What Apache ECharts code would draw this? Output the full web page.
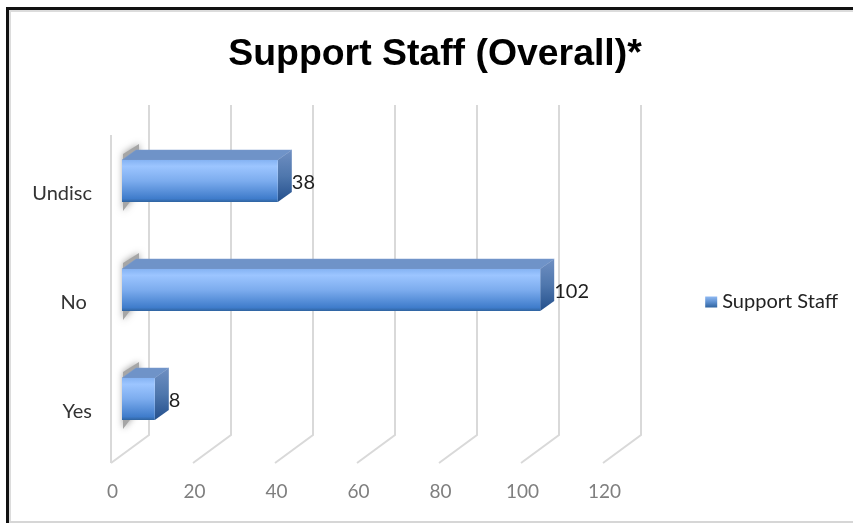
<!DOCTYPE html>
<html><head><meta charset="utf-8">
<style>html,body{margin:0;padding:0;background:#fff}#c{width:853px;height:523px}</style>
<script src="https://cdn.jsdelivr.net/npm/echarts@6/dist/echarts.min.js"></script>
</head><body><div id="c"></div>
<script>
const titleText = 'Support Staff (Overall)*';
const seriesName = 'Support Staff';
const categories = ['Yes', 'No ', 'Undisc'];
const values = [8, 102, 38];
const ticks = [0, 20, 40, 60, 80, 100, 120];

const DX = 14, DY = 10, WALL = 38, FLOOR = 28, LIFT = 13, HALF = 21, INSET = 11;
const grad = (x, y, x2, y2, stops) => new echarts.graphic.LinearGradient(x, y, x2, y2, stops.map((c) => ({offset: c[0], color: c[1]})));
const chart = echarts.init(document.getElementById('c'), null, {renderer: 'canvas'});

function gridItem(params, api) {
  const v = api.value(0);
  const x = api.coord([v, 0])[0], top = params.coordSys.y, b = top + params.coordSys.height - 3.5;
  const lineStyle = {fill: 'none', stroke: '#d9d9d9', lineWidth: 2};
  const children = [{type: 'polyline', shape: {points: [[x + WALL, 105], [x + WALL, b - FLOOR], [x, b]]}, style: lineStyle}];
  if (v === 0) children.push({type: 'line', shape: {x1: x, y1: top - 4.5, x2: x, y2: b}, style: lineStyle});
  return {type: 'group', children};
}

function barItem(params, api) {
  const v = api.value(0), cat = api.value(1);
  const end = api.coord([v, cat]), start = api.coord([0, cat]);
  const x0 = start[0] + INSET, x1 = end[0] + INSET, cy = end[1] - LIFT;
  const t = cy - HALF, b = cy + HALF;
  const children = [
    {type: 'polygon', shape: {points: [[x0 + 1, t - 6], [x0 + 17, t - 16], [x0 + 17, t + 30], [x0 + 1, b + 9]]},
      style: {fill: '#a6a6a6', shadowBlur: 7, shadowColor: '#9c9c9c'}},
    {type: 'polygon', shape: {points: [[x0, t], [x0 + DX, t - DY], [x1 + DX, t - DY], [x1, t]]},
      style: {fill: '#6f93c8', stroke: '#7a9bcd', lineWidth: 0.5, lineJoin: 'round'}},
    {type: 'polygon', shape: {points: [[x1, t], [x1 + DX, t - DY], [x1 + DX, b - DY], [x1, b]]},
      style: {fill: grad(0, 0, 0, 1, [[0, '#6f8fc2'], [0.5, '#4f77ad'], [1, '#234f8c']]), lineJoin: 'round'}},
    {type: 'rect', shape: {x: x0, y: t, width: x1 - x0, height: b - t},
      style: {fill: grad(0, 0, 0, 1, [[0, '#85b3f3'], [0.15, '#9cc5ff'], [0.5, '#7cacee'], [0.92, '#3f7ccb'], [1, '#2f639f']])}},
    {type: 'text', style: {x: x1 + DX, y: cy + 2, text: String(v), fill: '#1f1f1f', font: '20px Lato', textAlign: 'left', textVerticalAlign: 'middle'}}
  ];
  return {type: 'group', children};
}

chart.setOption({
  animation: false,
  backgroundColor: '#fff',
  title: {text: titleText, left: 430, top: 31, textAlign: 'center',
    textStyle: {fontFamily: 'Liberation Sans', fontWeight: 'bold', fontSize: 37.4, color: '#000'}},
  grid: {left: 111, top: 139.5, width: 492, height: 327},
  xAxis: {type: 'value', min: 0, max: 120, interval: 20,
    axisLine: {show: false}, axisTick: {show: false}, splitLine: {show: false},
    axisLabel: {color: '#7f7f7f', fontFamily: 'Lato', fontSize: 19, margin: 16, padding: [0, 0, 0, 3]}},
  yAxis: {type: 'category', data: categories,
    axisLine: {show: false}, axisTick: {show: false}, splitLine: {show: false},
    axisLabel: {color: '#333', fontFamily: 'Lato', fontSize: 20, margin: 19}},
  legend: {right: 10, top: 287, icon: 'rect', itemWidth: 12, itemHeight: 11, itemGap: 0,
    data: [{name: seriesName, itemStyle: {color: grad(0, 0, 0, 1, [[0, '#8fb9f2'], [0.5, '#5e90d0'], [1, '#2f639f']])}}],
    textStyle: {fontFamily: 'Lato', fontSize: 20, color: '#222'}},
  series: [
    {type: 'custom', name: '_grid', silent: true, z: 1, renderItem: gridItem, encode: {x: 0},
      data: ticks.map(t => [t]), clip: false},
    {type: 'custom', name: seriesName, z: 2, renderItem: barItem, encode: {x: 0, y: 1}, clip: false,
      itemStyle: {color: '#5e90d0'},
      data: values.map((v, i) => [v, i])}
  ],
  graphic: [
    {type: 'rect', z: 50, shape: {x: 9, y: 10, width: 844, height: 2}, style: {fill: '#dcdcdc'}},
    {type: 'rect', z: 50, shape: {x: 9, y: 10, width: 2, height: 513}, style: {fill: '#dcdcdc'}},
    {type: 'rect', z: 50, shape: {x: 10, y: 521, width: 843, height: 2}, style: {fill: '#d6d6d6'}},
    {type: 'rect', z: 51, shape: {x: 6, y: 7, width: 847, height: 3}, style: {fill: '#111'}},
    {type: 'rect', z: 51, shape: {x: 6, y: 7, width: 3, height: 516}, style: {fill: '#111'}}
  ]
});
</script></body></html>
